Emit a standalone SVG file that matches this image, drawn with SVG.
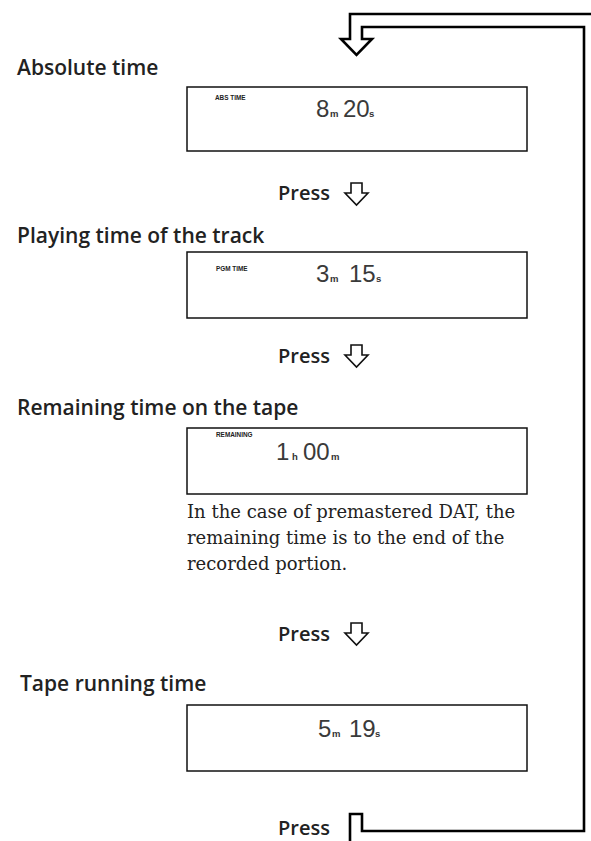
<svg xmlns="http://www.w3.org/2000/svg" width="591" height="841" viewBox="0 0 591 841">
<style>
.h{font-family:"Open Sans","Noto Sans",sans-serif;font-weight:600;font-size:21px;fill:#222}
.pr{font-family:"Open Sans","Noto Sans",sans-serif;font-weight:600;font-size:20px;fill:#222}
.box{fill:none;stroke:#111;stroke-width:1.5}
.lbl{font-family:"Liberation Sans",Arial,sans-serif;font-weight:bold;font-size:6.4px;fill:#222}
.dg{font-family:"Liberation Sans",Arial,sans-serif;font-size:24px;fill:#3a3a3a}
.sb{font-family:"Liberation Sans",Arial,sans-serif;font-weight:bold;font-size:9.5px;fill:#333}
.p{font-family:"DejaVu Serif","Liberation Serif",serif;font-size:18px;fill:#222}
.arr{fill:#fff;stroke:#111;stroke-width:1.6;stroke-linejoin:miter}
.loop{fill:none;stroke:#000;stroke-width:2.6;stroke-linejoin:miter}
</style>
<rect width="591" height="841" fill="#fff"/>
<g id="connectors">
<path class="loop" d="M600,14 H350 V39 H341 L356.5,55 L372,39 H362 V27 H584 V831 H362 V814 H350 V845"/>
<path class="arr" d="M351,183 H362 V193 H368 L356.5,205 L345,193 H351 Z"/>
<path class="arr" d="M351,345 H362 V355 H368 L356.5,367 L345,355 H351 Z"/>
<path class="arr" d="M351,623 H362 V633 H368 L356.5,645 L345,633 H351 Z"/>
</g>
<g id="press1"><text class="pr" x="278" y="200">Press</text></g>
<g id="press2"><text class="pr" x="278" y="363">Press</text></g>
<g id="press3"><text class="pr" x="278" y="641">Press</text></g>
<g id="press4"><text class="pr" x="278" y="835">Press</text></g>
<g id="abs">
<text class="h" x="17" y="75">Absolute time</text>
<rect class="box" x="187" y="87" width="340" height="64"/>
<text class="lbl" x="215" y="100">ABS TIME</text>
<text class="dg" x="316" y="117">8</text><text class="sb" x="330" y="117">m</text>
<text class="dg" x="343" y="117">20</text><text class="sb" x="369" y="117">s</text>
</g>
<g id="pgm">
<text class="h" x="17" y="243">Playing time of the track</text>
<rect class="box" x="187" y="252" width="340" height="66"/>
<text class="lbl" x="216" y="271">PGM TIME</text>
<text class="dg" x="316" y="282">3</text><text class="sb" x="330" y="282">m</text>
<text class="dg" x="349" y="282">15</text><text class="sb" x="376" y="282">s</text>
</g>
<g id="remain">
<text class="h" x="17" y="415">Remaining time on the tape</text>
<rect class="box" x="187" y="428" width="340" height="66"/>
<text class="lbl" x="216" y="437">REMAINING</text>
<text class="dg" x="276" y="460">1</text><text class="sb" x="292" y="460">h</text>
<text class="dg" x="303" y="460">00</text><text class="sb" x="331" y="460">m</text>
<text class="p" x="187" y="518">In the case of premastered DAT, the</text>
<text class="p" x="187" y="544">remaining time is to the end of the</text>
<text class="p" x="187" y="570">recorded portion.</text>
</g>
<g id="tape">
<text class="h" x="20" y="691">Tape running time</text>
<rect class="box" x="187" y="705" width="340" height="66"/>
<text class="dg" x="318" y="737">5</text><text class="sb" x="332" y="737">m</text>
<text class="dg" x="349" y="737">19</text><text class="sb" x="375" y="737">s</text>
</g>
</svg>
